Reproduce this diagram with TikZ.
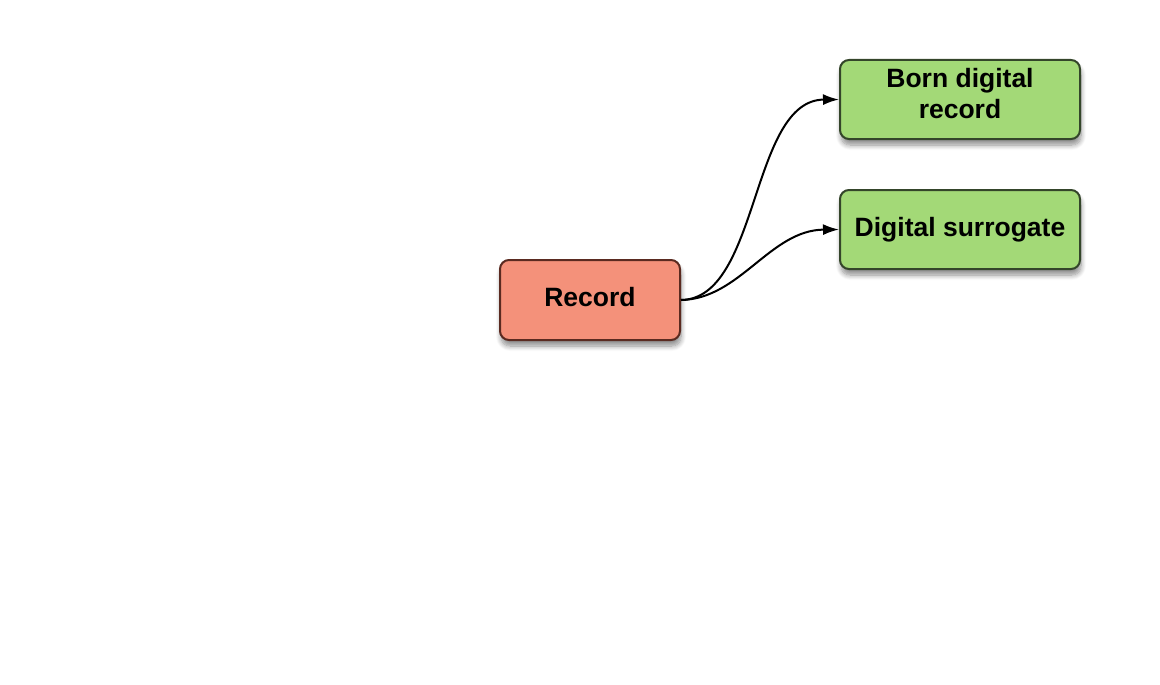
\documentclass[tikz,border=0pt]{standalone}
\usepackage{fontspec}
\setmainfont{Liberation Sans}
\usetikzlibrary{shadows.blur,arrows.meta}
\definecolor{salmon}{HTML}{F4917A}
\definecolor{salmonb}{HTML}{5A2A20}
\definecolor{leaf}{HTML}{A3D977}
\definecolor{leafb}{HTML}{34452A}
\begin{document}
\begin{tikzpicture}[x=1pt,y=-1pt,
  box/.style={draw, line width=2pt, rounded corners=9pt, font=\fontsize{26.5}{31}\selectfont\bfseries, align=center, inner sep=0pt,
    blur shadow={shadow xshift=1pt, shadow yshift=-6pt, shadow blur radius=5pt, shadow blur steps=8, shadow opacity=45}},
  conn/.style={-{Latex[length=16pt,width=11pt]}, line width=2pt}]
\useasboundingbox (0,0) rectangle (1160,685);
\node[box, fill=salmon, draw=salmonb, minimum width=180pt, minimum height=80pt, text depth=6pt] (rec) at (590,300) {Record};
\node[box, fill=leaf, draw=leafb, minimum width=240pt, minimum height=79pt, text depth=12pt] (born) at (960,99.5) {Born digital\\record};
\node[box, fill=leaf, draw=leafb, minimum width=240pt, minimum height=79pt] (sur) at (960,229.5) {Digital surrogate};
\draw[conn] (rec.east) .. controls (760,299) and (750,100) .. (born.west);
\draw[conn] (rec.east) .. controls (740,299) and (770,230) .. (sur.west);
\end{tikzpicture}
\end{document}
